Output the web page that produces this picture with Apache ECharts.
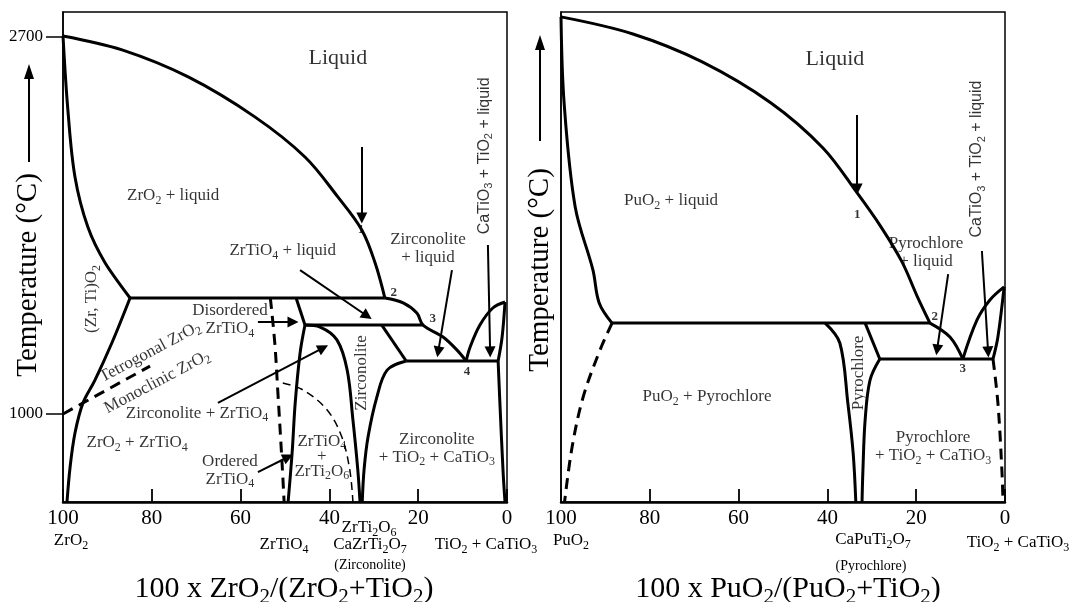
<!DOCTYPE html>
<html><head><meta charset="utf-8">
<script src="https://cdn.jsdelivr.net/npm/echarts@6/dist/echarts.min.js"></script>
<style>html,body{margin:0;padding:0;background:#fff}#c{width:1073px;height:602px}</style>
</head><body><div id="c"></div>
<script>
const SERIF = '"Liberation Serif", "Times New Roman", serif';
const SANS = '"Liberation Sans", Arial, sans-serif';

// ---------- Axis ticks ----------
const xTicks = [0, 20, 40, 60, 80, 100];
const yTickLabels = [1000, 2700];

// ---------- Left panel: ZrO2 - TiO2 - CaTiO3 (composition %, temperature °C) ----------
const liqZ     = [[100,2702],[86.7,2639],[71.8,2517],[56.8,2337],[45.5,2156],[38.1,1976],[32.7,1827],[29.7,1678],[27.5,1520]];
const solidZ   = [[100,2702],[98.9,2368],[97.3,2066],[94.4,1840],[90.5,1678],[84.9,1520]];
const solvZ    = [[84.9,1520],[89.0,1317],[92.8,1150],[95.5,1047],[97.3,911],[98.4,758],[99.1,600]];
const tetMonZ  = [[100,997],[80.4,1213]];
const eutZ1    = [[84.9,1520],[27.5,1520]];
const liqZ2    = [[27.5,1520],[23.4,1498],[20.3,1452],[18.9,1398],[14.4,1344],[11.3,1286],[9.2,1236]];
const perZ     = [[45.5,1398],[18.9,1398]];
const ztTopZ   = [[47.5,1520],[45.5,1398]];
const ztLeftZ  = [[45.5,1398],[46.6,1272],[47.7,1047],[48.4,821],[49.3,600]];
const ztRightZ = [[45.5,1398],[42.1,1389],[38.3,1331],[36.0,1195],[34.7,970],[33.6,744],[33.1,600]];
const zcTopZ   = [[28.2,1398],[22.7,1236]];
const zcRightZ = [[22.7,1236],[27.0,1195],[29.3,1074],[31.3,893],[32.2,744],[32.6,600]];
const eutZ4    = [[22.7,1236],[2.0,1236]];
const catUpZ   = [[2.0,1236],[1.1,1344],[0.45,1502]];
const catDnZ   = [[2.0,1236],[1.6,1047],[0.9,744],[0.45,600]];
const liqZ3    = [[9.2,1236],[8.3,1299],[6.1,1398],[3.2,1475],[0.45,1502]];
const ordDisZ  = [[53.3,1520],[52.3,1317],[51.6,1092],[50.7,789],[50.2,600]];
const zt2Z     = [[50.5,1137],[45.9,1105],[40.5,1015],[37.2,893],[35.4,744],[34.7,600]];

const arrowsZ = [
  [[32.7,2201],[32.7,1881]],
  [[46.6,1646],[31.5,1439]],
  [[12.4,1646],[15.5,1277]],
  [[4.3,1759],[3.8,1277]],
  [[56.1,1412],[48.2,1412]],
  [[65.1,1047],[41.4,1295]],
  [[56.1,735],[49.3,803]]
];

const labelsZ = [
  [38.1,2603,'Liquid'],
  [75.2,1980,'ZrO_2 + liquid'],
  [50.5,1732,'ZrTiO_4 + liquid'],
  [17.8,1741,'Zirconolite\n+ liquid'],
  [5.0,2161,'CaTiO_3 + TiO_2 + liquid'],
  [93.5,1516,'(Zr, Ti)O_2'],
  [80.4,1276,'Tetrogonal ZrO_2'],
  [78.8,1141,'Monoclinic ZrO_2'],
  [62.4,1421,'Disordered\nZrTiO_4'],
  [69.8,1001,'Zirconolite + ZrTiO_4'],
  [83.3,866,'ZrO_2 + ZrTiO_4'],
  [62.4,744,'Ordered\nZrTiO_4'],
  [32.7,1182,'Zirconolite'],
  [41.7,807,'ZrTiO_4\n+\nZrTi_2O_6'],
  [15.8,843,'Zirconolite\n+ TiO_2 + CaTiO_3'],
  [32.9,1827,'1'],
  [25.5,1543,'2'],
  [16.7,1425,'3'],
  [9.0,1186,'4']
];
const labelKindZ = ['big','reg','reg','reg','sansV','regV','tilt','tilt','reg','reg','reg','reg','regV','tight','reg','num','num','num','num'];

// ---------- Right panel: PuO2 - TiO2 - CaTiO3 ----------
const liqP     = [[100,2788],[83.8,2711],[68.2,2585],[52.7,2400],[41.0,2197],[33.3,1994],[27.9,1840],[23.2,1683],[19.8,1529],[16.9,1407]];
const solidP   = [[100,2788],[99.3,2400],[96.8,1931],[92.8,1646],[91.4,1498],[88.5,1407]];
const solvP    = [[88.5,1407],[91.2,1286],[95.0,1074],[97.5,848],[99.2,600]];
const eutP1    = [[88.5,1407],[16.9,1407]];
const pyLeftP  = [[40.5,1407],[37.2,1317],[35.4,1047],[34.2,821],[33.6,600]];
const pyTopP   = [[31.5,1407],[28.2,1245]];
const pyRightP = [[28.2,1245],[30.4,1150],[31.5,970],[32.0,744],[32.2,600]];
const eutP3    = [[28.2,1245],[2.7,1245]];
const liqP2    = [[16.9,1407],[12.4,1344],[9.5,1245]];
const liqP3    = [[9.5,1245],[6.3,1421],[3.4,1511],[0.2,1570]];
const catUpP   = [[2.7,1245],[1.6,1344],[0.2,1570]];
const catDnP   = [[2.7,1245],[1.6,1047],[0.7,744],[0.45,600]];

const arrowsP = [
  [[33.3,2346],[33.3,2012]],
  [[12.8,1628],[15.3,1286]],
  [[5.2,1732],[3.8,1277]]
];

const labelsP = [
  [38.3,2598,'Liquid'],
  [75.2,1958,'PuO_2 + liquid'],
  [17.8,1723,'Pyrochlore\n+ liquid'],
  [6.3,2147,'CaTiO_3 + TiO_2 + liquid'],
  [67.1,1074,'PuO_2 + Pyrochlore'],
  [33.1,1182,'Pyrochlore'],
  [16.2,848,'Pyrochlore\n+ TiO_2 + CaTiO_3'],
  [33.3,1894,'1'],
  [15.8,1434,'2'],
  [9.5,1200,'3']
];
const labelKindP = ['big','reg','reg','sansV','reg','regV','reg','num','num','num'];

// ---------- helpers ----------
function fmt(t){ return t.replace(/_(\d)/g, '{s|$1}'); }
function subRich(fs, fam, bold){
  const s = Math.round(fs*0.7);
  return { s: { fontSize: s, fontFamily: fam, fontWeight: bold ? 'bold':'normal', color:'#000',
                lineHeight: s, padding: [Math.round(fs*0.55),0,0,0] } };
}
const KIND = {
  big:   {fs:22, fam:SERIF, rot:0,  lh:24},
  reg:   {fs:17, fam:SERIF, rot:0,  lh:18},
  tight: {fs:17, fam:SERIF, rot:0,  lh:15},
  regV:  {fs:17, fam:SERIF, rot:90, lh:18},
  sansV: {fs:16, fam:SANS,  rot:90, lh:18},
  tilt:  {fs:17, fam:SERIF, rot:28, lh:18},
  num:   {fs:13, fam:SERIF, rot:0,  lh:14, bold:true}
};
function mkLabels(arr, kinds){
  return arr.map((l,i)=>{
    const k = KIND[kinds[i]];
    return { value:[l[0], l[1]], txt: fmt(l[2]),
      label: { fontSize:k.fs, fontFamily:k.fam, fontWeight:k.bold?'bold':'normal', rotate:k.rot,
               lineHeight:k.lh, color:'#000', rich: subRich(k.fs, k.fam, k.bold) } };
  });
}

const SOLID = {width:3, type:'solid'};
const DASH_H = {width:3, type:[11,7]};
const DASH_T = {width:1.5, type:[8,5]};

const curvesZ = [
  [liqZ,SOLID,true],[solidZ,SOLID,true],[solvZ,SOLID,true],[tetMonZ,DASH_H,false],[eutZ1,SOLID,false],
  [liqZ2,SOLID,true],[perZ,SOLID,false],[ztTopZ,SOLID,false],[ztLeftZ,SOLID,true],[ztRightZ,SOLID,true],
  [zcTopZ,SOLID,false],[zcRightZ,SOLID,true],[eutZ4,SOLID,false],[catUpZ,SOLID,true],[catDnZ,SOLID,true],
  [liqZ3,SOLID,true],[ordDisZ,DASH_H,true],[zt2Z,DASH_T,true]
];
const curvesP = [
  [liqP,SOLID,true],[solidP,SOLID,true],[solvP,DASH_H,true],[eutP1,SOLID,false],[pyLeftP,SOLID,true],
  [pyTopP,SOLID,false],[pyRightP,SOLID,true],[eutP3,SOLID,false],[liqP2,SOLID,true],[liqP3,SOLID,true],
  [catUpP,SOLID,true],[catDnP,DASH_H,true]
];

const series = [];
function addPanel(curves, arrows, labels, kinds, idx){
  curves.forEach(c=>{
    series.push({ type:'line', xAxisIndex:idx, yAxisIndex:idx, data:c[0], smooth:c[2]?0.35:false,
      symbol:'none', silent:true, animation:false,
      lineStyle:{color:'#000', width:c[1].width, type:c[1].type, cap:'butt', join:'round'} });
  });
  series.push({ type:'lines', coordinateSystem:'cartesian2d', xAxisIndex:idx, yAxisIndex:idx,
    data: arrows.map(a=>({coords:a})), symbol:['none','triangle'], symbolSize:11, silent:true, animation:false,
    itemStyle:{color:'#000'}, lineStyle:{color:'#000', width:2, opacity:1, curveness:0} });
  series.push({ type:'scatter', xAxisIndex:idx, yAxisIndex:idx, symbolSize:1, clip:false, silent:true, animation:false,
    itemStyle:{color:'rgba(0,0,0,0)'}, data: mkLabels(labels, kinds), z:5,
    label:{show:true, position:'inside', formatter:p=>p.data.txt} });
}
addPanel(curvesZ, arrowsZ, labelsZ, labelKindZ, 0);
addPanel(curvesP, arrowsP, labelsP, labelKindP, 1);

function xAxisCfg(gi){
  return { type:'value', gridIndex:gi, min:0, max:100, interval:20, inverse:true,
    axisLine:{show:true, onZero:false, lineStyle:{color:'#000', width:2.5}},
    axisTick:{show:true, inside:true, length:13, lineStyle:{color:'#000', width:1.8}},
    axisLabel:{show:true, fontSize:21, fontFamily:SERIF, color:'#000', margin:6, showMinLabel:true, showMaxLabel:true,
      customValues: xTicks},
    splitLine:{show:false} };
}
function yAxisCfg(gi, showLab){
  const ax = { type:'value', gridIndex:gi, min:600, max:2810, position:'left',
    axisLine:{show:true, onZero:false, lineStyle:{color:'#000', width:1.5}},
    axisTick:{show:false}, axisLabel:{show:false}, splitLine:{show:false} };
  if (showLab) {
    ax.axisTick = {show:true, inside:false, length:17, customValues: yTickLabels, lineStyle:{color:'#000', width:1.5}};
    ax.axisLabel = {show:true, fontSize:17, fontFamily:SERIF, color:'#000', margin:20, customValues: yTickLabels,
      formatter: v => String(v)};
  }
  return ax;
}

function gText(x, y, text, fs, rot){
  return { type:'text', x:x, y:y, rotation: rot||0, silent:true,
    style:{ text: fmt(text), fontSize:fs, fontFamily:SERIF, fill:'#000', align:'center', verticalAlign:'middle',
      rich:{ s:{ fontSize:Math.round(fs*0.7), fontFamily:SERIF, fill:'#000', lineHeight:Math.round(fs*0.7),
                 padding:[Math.round(fs*0.55),0,0,0] } } } };
}
function gArrow(x, y1, y2){
  return [
    { type:'line', silent:true, shape:{x1:x, y1:y1, x2:x, y2:y2+12}, style:{stroke:'#000', lineWidth:2} },
    { type:'polygon', silent:true, shape:{points:[[x,y2],[x-5,y2+15],[x+5,y2+15]]}, style:{fill:'#000'} }
  ];
}

const graphic = [
  gText(28, 275, 'Temperature (°C)', 29, Math.PI/2),
  gText(540, 270, 'Temperature (°C)', 29, Math.PI/2),
  ...gArrow(29, 162, 64),
  ...gArrow(540, 141, 35),
  gText(71, 541, 'ZrO_2', 17),
  gText(284, 545, 'ZrTiO_4', 17),
  gText(369, 528, 'ZrTi_2O_6', 17),
  gText(370, 545, 'CaZrTi_2O_7', 17),
  gText(370, 565, '(Zirconolite)', 14),
  gText(486, 545, 'TiO_2 + CaTiO_3', 17),
  gText(284, 589, '100 x ZrO_2/(ZrO_2+TiO_2)', 30),
  gText(571, 541, 'PuO_2', 17),
  gText(873, 540, 'CaPuTi_2O_7', 17),
  gText(871, 566, '(Pyrochlore)', 14),
  gText(1018, 543, 'TiO_2 + CaTiO_3', 17),
  gText(788, 589, '100 x PuO_2/(PuO_2+TiO_2)', 30)
];

const option = {
  animation:false,
  backgroundColor:'#fff',
  grid:[
    {left:63, right:566, top:12, bottom:100, show:true, borderColor:'#000', borderWidth:1.5, containLabel:false},
    {left:561, right:68, top:12, bottom:100, show:true, borderColor:'#000', borderWidth:1.5, containLabel:false}
  ],
  xAxis:[xAxisCfg(0), xAxisCfg(1)],
  yAxis:[yAxisCfg(0,true), yAxisCfg(1,false)],
  series: series,
  graphic: graphic
};
const chart = echarts.init(document.getElementById('c'), null, {renderer:'canvas'});
chart.setOption(option);
</script></body></html>
